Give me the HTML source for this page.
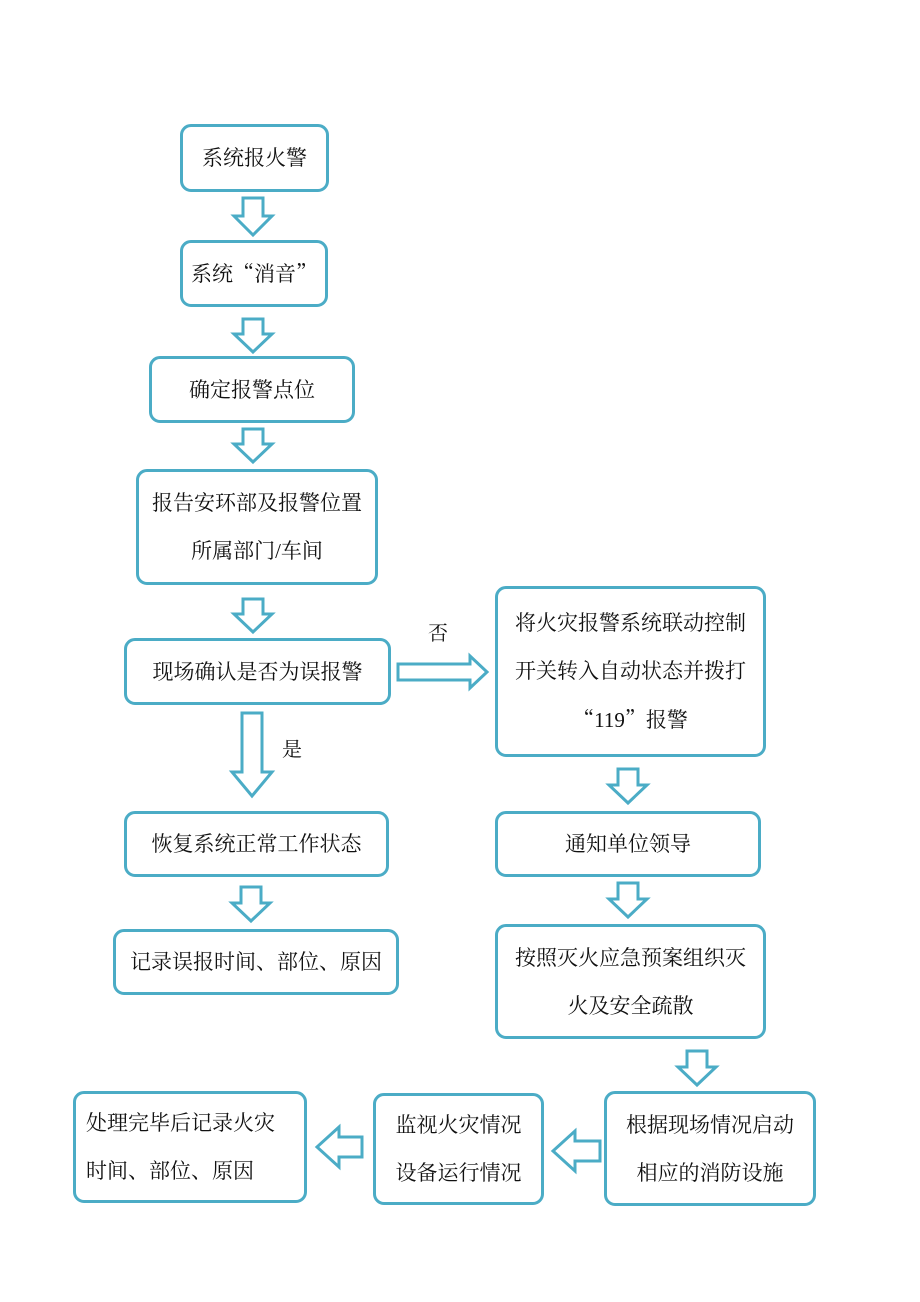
<!DOCTYPE html>
<html><head><meta charset="utf-8"><style>
body{margin:0;width:920px;height:1302px;background:#fff;position:relative;overflow:hidden;font-family:"Liberation Serif","Noto Serif CJK SC",serif;}
.b{position:absolute;box-sizing:border-box;border:3px solid #4bacc6;border-radius:11px;display:flex;flex-direction:column;justify-content:center;align-items:center;font-size:21px;color:#111;line-height:48px;text-align:center}
.l{position:absolute;font-size:20px;color:#111}
.q{font-family:"Noto Serif CJK SC",serif}
svg{position:absolute;left:0;top:0}
</style></head><body>
<svg width="920" height="1302">
<g fill="#fff" stroke="#4bacc6" stroke-width="3" stroke-linejoin="miter">
<polygon points="243,198 263,198 263,216 272,216 253,235 234,216 243,216"/>
<polygon points="243,319 263,319 263,334 272,334 253,352 234,334 243,334"/>
<polygon points="243,429 263,429 263,444 272,444 253,462 234,444 243,444"/>
<polygon points="243,599 263,599 263,614 272,614 253,632 234,614 243,614"/>
<polygon points="242,713 262,713 262,772 272,772 252,796 232,772 242,772"/>
<polygon points="241,887 261,887 261,903 270,903 251,921 232,903 241,903"/>
<polygon points="398,664 470,664 470,656 487,672 470,688 470,680 398,680"/>
<polygon points="618,769 638,769 638,785 647,785 628,803 609,785 618,785"/>
<polygon points="618,883 638,883 638,899 647,899 628,917 609,899 618,899"/>
<polygon points="687,1051 707,1051 707,1067 716,1067 697,1085 678,1067 687,1067"/>
<polygon points="600,1141 575,1141 575,1131 553,1151 575,1171 575,1161 600,1161"/>
<polygon points="362,1137 339,1137 339,1127 317,1147 339,1167 339,1157 362,1157"/>
</g></svg>
<div class="b" style="left:180px;top:124px;width:149px;height:68px">系统报火警</div>
<div class="b" style="left:180px;top:240px;width:148px;height:67px"><span>系统<span class="q">“</span>消音<span class="q">”</span></span></div>
<div class="b" style="left:149px;top:356px;width:206px;height:67px">确定报警点位</div>
<div class="b" style="left:136px;top:469px;width:242px;height:116px">报告安环部及报警位置<br>所属部门/车间</div>
<div class="b" style="left:124px;top:638px;width:267px;height:67px">现场确认是否为误报警</div>
<div class="l" style="left:282px;top:733px">是</div>
<div class="l" style="left:428px;top:617px">否</div>
<div class="b" style="left:124px;top:811px;width:265px;height:66px">恢复系统正常工作状态</div>
<div class="b" style="left:113px;top:929px;width:286px;height:66px">记录误报时间、部位、原因</div>
<div class="b" style="left:495px;top:586px;width:271px;height:171px">将火灾报警系统联动控制<br>开关转入自动状态并拨打<br><span><span class="q">“</span>119<span class="q">”</span>报警</span></div>
<div class="b" style="left:495px;top:811px;width:266px;height:66px">通知单位领导</div>
<div class="b" style="left:495px;top:924px;width:271px;height:115px">按照灭火应急预案组织灭<br>火及安全疏散</div>
<div class="b" style="left:604px;top:1091px;width:212px;height:115px">根据现场情况启动<br>相应的消防设施</div>
<div class="b" style="left:373px;top:1093px;width:171px;height:112px">监视火灾情况<br>设备运行情况</div>
<div class="b" style="left:73px;top:1091px;width:234px;height:112px;align-items:flex-start;padding-left:10px;text-align:left">处理完毕后记录火灾<br>时间、部位、原因</div>
</body></html>
